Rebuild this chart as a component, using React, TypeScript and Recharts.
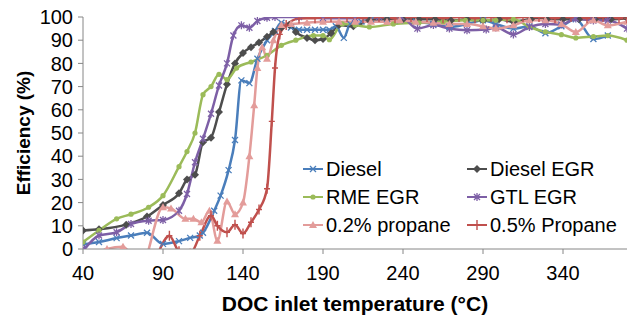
import { LineChart, Line, XAxis, YAxis, Legend } from "recharts";

const xTicks = [40, 90, 140, 190, 240, 290, 340];
const yTicks = [0, 10, 20, 30, 40, 50, 60, 70, 80, 90, 100];

const dieselT = [40, 50, 61, 70, 80, 90, 100, 107, 113, 115, 122, 126, 131, 135, 139, 144, 149, 155, 160, 164, 170, 175, 180, 185, 190, 194, 198, 203, 207, 214, 220, 230, 238, 248, 259, 269, 280, 290, 298, 309, 319, 329, 339, 348, 359, 368];
const dieselE = [2, 3, 4.7, 5.8, 7, 2.2, 3.4, 4.8, 5.8, 7, 16.5, 23, 34, 47, 72.7, 71.5, 82, 90, 94, 97.5, 95.5, 94.5, 94.5, 94.5, 94.5, 94.5, 96, 91, 97, 98, 99, 99, 98.6, 98, 97, 95.7, 97, 98.6, 97, 95, 96, 93, 96, 99, 90.5, 92];

const dieselEgrT = [40, 50, 67, 80, 90, 100, 105, 110, 115, 120, 125, 130, 135, 140, 145, 150, 155, 159, 164, 169, 173, 180, 185, 190, 195, 200, 209, 219, 230, 240, 250, 260, 270, 280, 290, 300, 309, 320, 330, 340, 350, 360, 370, 380];
const dieselEgrE = [8, 8.5, 10.5, 14, 19, 24, 30, 32, 46, 48, 59, 71, 80, 84.5, 87, 89, 91.5, 93.5, 95.5, 96.5, 93.5, 91, 90, 90.5, 93, 96.5, 96, 98.5, 99, 99, 99, 99, 98.5, 99, 98.5, 99, 98, 99, 99, 99, 99, 99, 99, 99.5];

const rmeEgrT = [40, 50, 61, 70, 81, 90, 100, 105, 110, 115, 120, 125, 130, 136, 145, 155, 164, 173, 184, 190, 194, 202, 210, 219, 234, 250, 265, 279, 290, 298, 309, 319, 329, 339, 348, 359, 368, 380];
const rmeEgrE = [3, 8, 13, 15, 18, 23, 35.5, 42, 50, 66.5, 70, 75.3, 73, 78, 80.6, 83.5, 87.8, 90, 92, 92, 90.2, 97, 96.5, 95.7, 97, 97.5, 98, 98.6, 98.6, 98.6, 99, 95.7, 93.6, 92.4, 91, 91.6, 92, 90];

const gtlEgrT = [41, 50, 61, 70, 81, 90, 100, 105, 110, 115, 120, 125, 130, 134, 139, 144, 149, 155, 160, 175, 190, 210, 225, 239, 249, 259, 269, 280, 292, 298, 309, 319, 329, 339, 348, 359, 368, 380];
const gtlEgrE = [0, 5.8, 7.2, 10.8, 12.2, 12.5, 16.5, 23.7, 37.4, 47.5, 58.3, 70.5, 80, 92, 96.4, 95.4, 98.3, 99.7, 100, 100, 99.5, 99.5, 100, 100, 95, 96.5, 95, 94.3, 94.6, 95.5, 92.5, 95.7, 97, 96.8, 99.3, 98.5, 98.5, 95];

const propane02T = [45, 55, 65, 76, 90, 95, 104, 109, 114, 119, 124, 130, 135, 140, 144, 147, 149, 152, 155, 159, 164, 170, 180, 190, 200, 210, 220, 230, 238, 248, 259, 269, 280, 290, 298, 309, 319, 329, 339, 348, 359, 368, 380];
const propane02E = [-3, 0, 1, -8, 18, 17.5, 13, 13, 11.5, 16.5, 3.6, 20.5, 15, 20, 40, 62, 78, 87, 82, 90, 96.5, 97, 97.5, 98, 98, 98, 98, 98, 98.6, 98, 97.5, 97, 97, 96, 95, 96.4, 98.6, 98.6, 97, 93.5, 98.6, 96.4, 98];

const propane05T = [80, 86, 94, 100, 107, 113, 120, 124, 130, 135, 140, 145, 150, 155, 158, 160, 163, 167, 175, 185, 195, 205, 215, 225, 235, 245, 255, 265, 275, 285, 295, 305, 315, 325, 335, 345, 355, 365, 375, 380];
const propane05E = [-12, -3, 5.7, -1, -2, 5.7, 14.4, 10, 7.2, 10.5, 6.7, 11.5, 17, 26, 55, 78, 92.5, 96.5, 99.3, 99.5, 100, 100, 99.5, 100, 99.5, 100, 100, 99.5, 100, 99.5, 100, 99.5, 100, 100, 99.5, 100, 99.5, 100, 99.5, 99.5];

const zip = (t: number[], e: number[]) => t.map((x, i) => ({ t: x, e: e[i] }));

const series = [
  { name: "Diesel", data: zip(dieselT, dieselE), color: "#4a7ebb", marker: "x" },
  { name: "Diesel EGR", data: zip(dieselEgrT, dieselEgrE), color: "#4d4d4d", marker: "diamond" },
  { name: "RME EGR", data: zip(rmeEgrT, rmeEgrE), color: "#9bbb59", marker: "circle" },
  { name: "GTL EGR", data: zip(gtlEgrT, gtlEgrE), color: "#7d5fa6", marker: "star" },
  { name: "0.2% propane", data: zip(propane02T, propane02E), color: "#e39c9a", marker: "triangle" },
  { name: "0.5% Propane", data: zip(propane05T, propane05E), color: "#c0504d", marker: "plus" },
];

const FONT = "'Liberation Sans', Arial, sans-serif";

function Marker({ cx, cy, kind, color }: any) {
  if (cx == null || cy == null || isNaN(cx) || isNaN(cy)) return null;
  const s = 3;
  switch (kind) {
    case "x":
      return (
        <path
          d={`M${cx - s},${cy - s}L${cx + s},${cy + s}M${cx - s},${cy + s}L${cx + s},${cy - s}`}
          stroke={color}
          strokeWidth={1.3}
          fill="none"
        />
      );
    case "diamond":
      return <path d={`M${cx},${cy - 4}L${cx + 4},${cy}L${cx},${cy + 4}L${cx - 4},${cy}Z`} fill={color} />;
    case "circle":
      return <circle cx={cx} cy={cy} r={2.6} fill={color} />;
    case "star":
      return (
        <path
          d={`M${cx - s},${cy - s}L${cx + s},${cy + s}M${cx - s},${cy + s}L${cx + s},${cy - s}M${cx},${cy - 4}L${cx},${cy + 4}`}
          stroke={color}
          strokeWidth={1.3}
          fill="none"
        />
      );
    case "triangle":
      return <path d={`M${cx},${cy - 4}L${cx + 4},${cy + 3}L${cx - 4},${cy + 3}Z`} fill={color} />;
    case "plus":
      return (
        <path d={`M${cx},${cy - 5}L${cx},${cy + 5}M${cx - 3},${cy}L${cx + 3},${cy}`} stroke={color} strokeWidth={1.4} fill="none" />
      );
    default:
      return null;
  }
}

function LegendBox() {
  return (
    <div
      style={{
        display: "grid",
        gridTemplateColumns: "164px auto",
        fontFamily: FONT,
        fontSize: 20,
        color: "#000",
      }}
    >
      {series.map((s) => (
        <div key={s.name} style={{ display: "flex", alignItems: "center", height: 28, whiteSpace: "nowrap" }}>
          <svg width={22} height={12} style={{ marginRight: 1 }}>
            <line x1={0} y1={6} x2={20} y2={6} stroke={s.color} strokeWidth={2} />
            <Marker cx={10} cy={6} kind={s.marker} color={s.color} />
          </svg>
          <span>{s.name}</span>
        </div>
      ))}
    </div>
  );
}

const XLabel = ({ viewBox }: any) => (
  <text
    x={viewBox.x + viewBox.width / 2}
    y={viewBox.y + 62}
    textAnchor="middle"
    fontFamily={FONT}
    fontWeight="bold"
    fontSize={21}
    fill="#000"
  >
    DOC inlet temperature (°C)
  </text>
);

const YLabel = ({ viewBox }: any) => {
  const x = 30;
  const y = viewBox.y + viewBox.height / 2;
  return (
    <text
      x={x}
      y={y}
      transform={`rotate(-90, ${x}, ${y})`}
      textAnchor="middle"
      fontFamily={FONT}
      fontWeight="bold"
      fontSize={19}
      fill="#000"
    >
      Efficiency (%)
    </text>
  );
};

export default function App() {
  return (
    <div style={{ position: "absolute", left: 0, top: 0, background: "#fff" }}>
      <LineChart width={628} height={326} margin={{ top: 17, right: 1, left: 0, bottom: 0 }}>
        <XAxis
          type="number"
          dataKey="t"
          domain={[40, 380]}
          ticks={xTicks}
          interval={0}
          allowDataOverflow
          height={77}
          tickSize={5}
          tickMargin={12}
          stroke="#868686"
          tick={{ fill: "#000", fontSize: 20, fontFamily: FONT }}
          label={<XLabel />}
        />
        <YAxis
          type="number"
          domain={[0, 100]}
          ticks={yTicks}
          interval={0}
          allowDataOverflow
          width={83}
          tickSize={5}
          tickMargin={5}
          stroke="#868686"
          tick={{ fill: "#000", fontSize: 20, fontFamily: FONT }}
          label={<YLabel />}
        />
        <Legend
          layout="horizontal"
          verticalAlign="middle"
          align="center"
          wrapperStyle={{ left: 303, top: 155, width: 325 }}
          content={() => <LegendBox />}
        />
        {series.map((s) => (
          <Line
            key={s.name}
            data={s.data}
            dataKey="e"
            name={s.name}
            type="monotone"
            stroke={s.color}
            strokeWidth={2.5}
            isAnimationActive={false}
            dot={(p: any) => <Marker key={`${s.name}-${p.index}`} cx={p.cx} cy={p.cy} kind={s.marker} color={s.color} />}
            activeDot={false}
          />
        ))}
      </LineChart>
    </div>
  );
}
